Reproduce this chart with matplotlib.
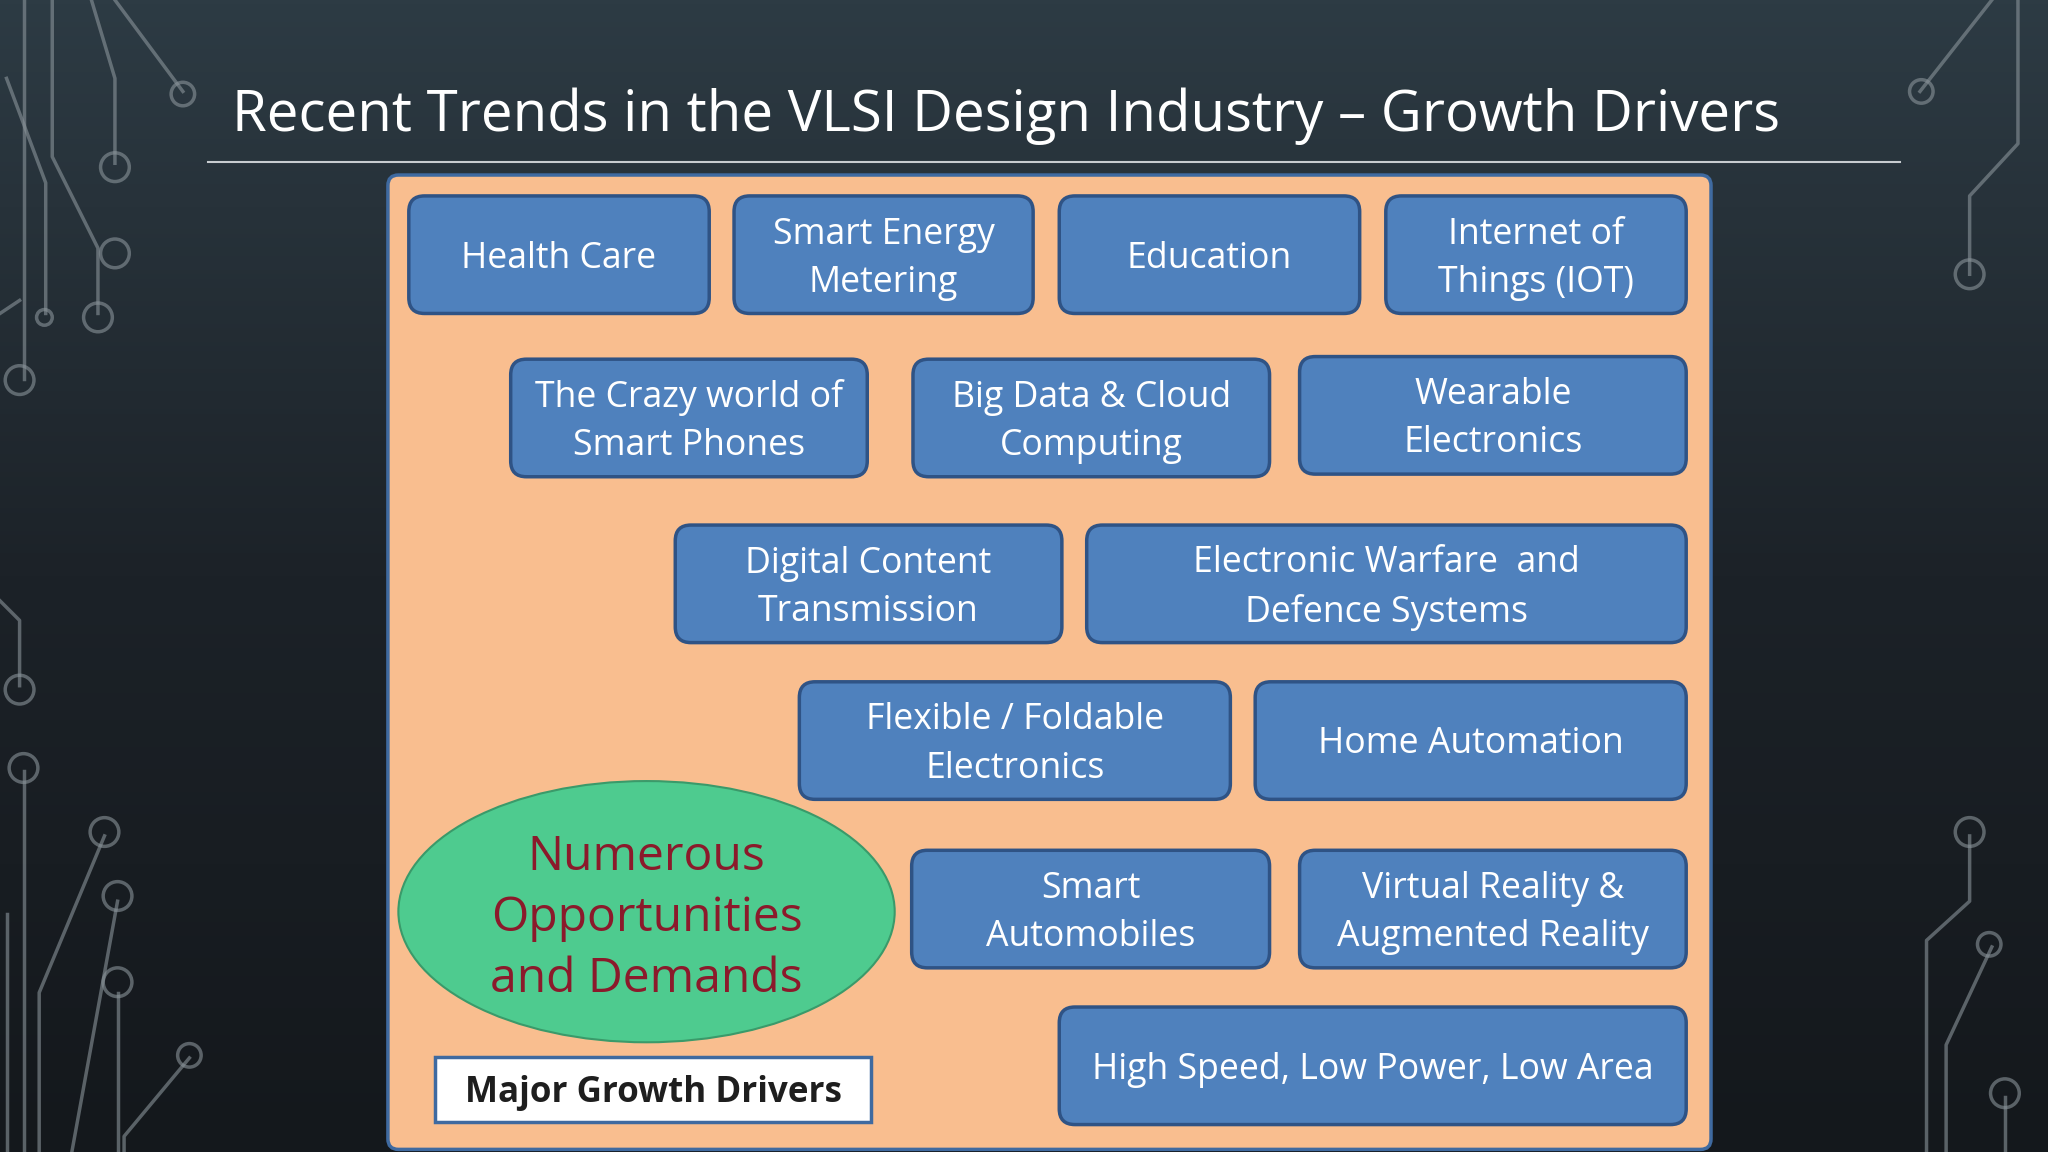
import numpy as np
import matplotlib.pyplot as plt
from matplotlib.patches import FancyBboxPatch, Ellipse, Rectangle, Circle

W, H = 1568, 882
S = 2048 / W * 0.72 * 1.3  # ref px -> pt

title = "Recent Trends in the VLSI Design Industry \u2013 Growth Drivers"
labels = ["Health Care", "Smart Energy\nMetering", "Education", "Internet of\nThings (IOT)",
          "The Crazy world of\nSmart Phones", "Big Data & Cloud\nComputing", "Wearable\nElectronics",
          "Digital Content\nTransmission", "Electronic Warfare  and\nDefence Systems",
          "Flexible / Foldable\nElectronics", "Home Automation",
          "Smart\nAutomobiles", "Virtual Reality &\nAugmented Reality",
          "High Speed, Low Power, Low Area"]
centre_text = "Numerous\nOpportunities\nand Demands"
footer = "Major Growth Drivers"

# box layout (x0, y0, x1, y1) in reference pixels
boxes = [(313, 150, 543, 240), (562, 150, 791, 240), (811, 150, 1041, 240), (1061, 150, 1291, 240),
         (391, 275, 664, 365), (699, 275, 972, 365), (995, 273, 1291, 363),
         (517, 402, 813, 492), (832, 402, 1291, 492),
         (612, 522, 942, 612), (961, 522, 1291, 612),
         (698, 651, 972, 741), (995, 651, 1291, 741),
         (811, 771, 1291, 861)]

fig = plt.figure(figsize=(20.48, 11.52), dpi=100)
ax = fig.add_axes([0, 0, 1, 1])
ax.set_xlim(0, W)
ax.set_ylim(H, 0)
ax.axis('off')

# dark gradient background
grad = np.linspace(0, 1, 256)[:, None]
ax.imshow(grad, extent=(0, W, H, 0), cmap=plt.matplotlib.colors.LinearSegmentedColormap.from_list(
    'bg', ['#2d3b44', '#1c2228', '#14181c']), aspect='auto', zorder=0)

# circuit decoration
lc = '#8a949a'
traces = [
    [(18, 0), (18, 290)], [(40, 0), (40, 120), (75, 190), (75, 240)],
    [(70, 0), (88, 60), (88, 125)], [(88, 0), (140, 70)], [(5, 60), (35, 140), (35, 240)],
    [(0, 240), (15, 230)], [(0, 460), (15, 475), (15, 525)], [(18, 590), (18, 882)],
    [(30, 882), (30, 760), (80, 640)], [(55, 882), (90, 690)], [(90, 760), (90, 882)],
    [(145, 810), (95, 870), (95, 882)], [(5, 700), (5, 882)],
    [(1470, 70), (1525, 0)], [(1508, 210), (1508, 150), (1545, 110), (1545, 0)],
    [(1508, 640), (1508, 690), (1475, 720), (1475, 882)],
    [(1525, 725), (1490, 800), (1490, 882)], [(1535, 840), (1535, 882)],
]
for t in traces:
    xs, ys = zip(*t)
    ax.plot(xs, ys, color=lc, lw=2.5, alpha=0.6, zorder=1)
for cx, cy, r in [(140, 72, 9), (88, 128, 11), (88, 194, 11), (75, 243, 11), (34, 243, 6),
                  (15, 291, 11), (15, 528, 11), (18, 588, 11), (80, 637, 11), (90, 686, 11),
                  (90, 752, 11), (145, 808, 9), (1471, 70, 9), (1508, 210, 11),
                  (1508, 637, 11), (1523, 723, 9), (1535, 837, 11)]:
    ax.add_patch(Circle((cx, cy), r, fill=False, ec=lc, lw=2.5, alpha=0.6, zorder=1))

# title
ax.text(178, 89, title, color='white', fontsize=33.2 * S, family='Open Sans', va='center', ha='left')
ax.plot([159, 1455], [124, 124], color='#c8ccd0', lw=1.5)

# orange panel
ax.add_patch(FancyBboxPatch((297, 134), 1013, 746, boxstyle='round,pad=0,rounding_size=8',
                            fc='#f9be8f', ec='#3f6aa0', lw=2.5, zorder=2))

for lab, (x0, y0, x1, y1) in zip(labels, boxes):
    ax.add_patch(FancyBboxPatch((x0, y0), x1 - x0, y1 - y0, boxstyle='round,pad=0,rounding_size=12',
                                fc='#4f81bd', ec='#2f5385', lw=2.5, zorder=3))
    ax.text((x0 + x1) / 2, (y0 + y1) / 2 + 3, lab, color='white', fontsize=21 * S,
            family='Open Sans', ha='center', va='center', linespacing=1.45, zorder=4)

ax.add_patch(Ellipse((495, 698), 380, 200, fc='#4ecb8f', ec='#3a9a6a', lw=1.5, zorder=3))
ax.text(495, 703, centre_text, color='#8b1a2b', fontsize=28.3 * S, family='Open Sans',
        ha='center', va='center', linespacing=1.38, zorder=4)

ax.add_patch(Rectangle((333, 809), 334, 50, fc='white', ec='#3f6aa0', lw=2.5, zorder=3))
ax.text(500, 837, footer, color='#1e1e1e', fontsize=20.6 * S, family='Open Sans',
        weight='bold', ha='center', va='center', zorder=4)

fig.savefig('out.png', dpi=100)
